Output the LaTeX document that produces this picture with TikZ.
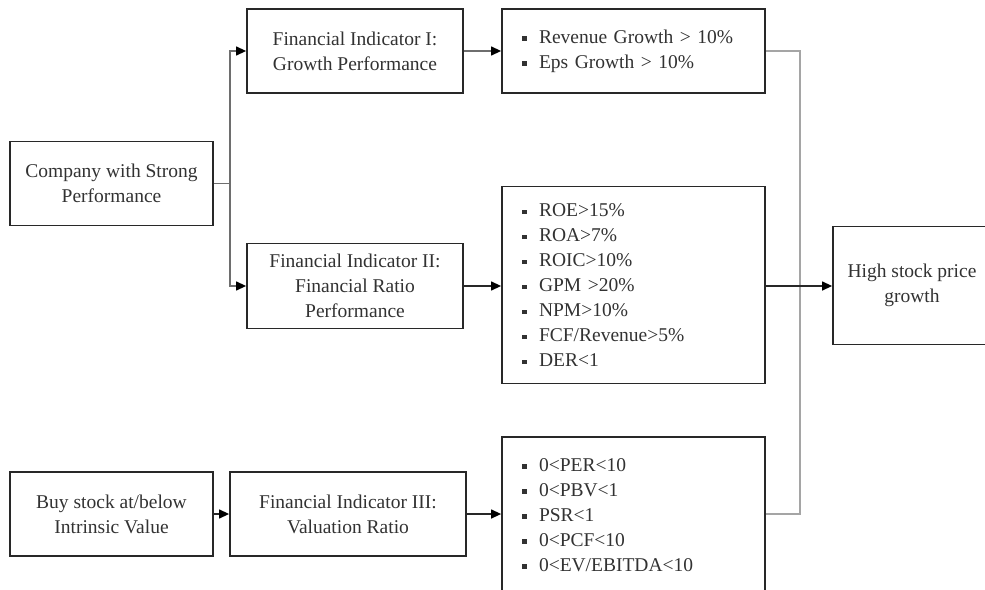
\documentclass[tikz,border=0pt]{standalone}
\usepackage{fontspec}
\setmainfont{Liberation Serif}
\usetikzlibrary{arrows.meta}
\definecolor{txt}{RGB}{50,50,50}
\definecolor{bord}{RGB}{40,40,40}
\definecolor{lgray}{RGB}{165,165,165}
\definecolor{mgray}{RGB}{110,110,110}
\newcommand{\bul}{\makebox[17pt][l]{\rule[2.4pt]{4.5pt}{4.5pt}}}
\begin{document}
\begin{tikzpicture}[x=1pt,y=-1pt,
  box/.style={draw=bord,line width=1.8pt,text=txt,font=\fontsize{19.5}{25}\selectfont,align=center,inner sep=0pt},
  listbox/.style={box,align=left,inner xsep=20pt,text width=223pt,minimum width=263pt},
  conn/.style={draw=mgray,line width=1.3pt},
  arr/.style={conn,-{Triangle[length=10pt,width=9pt,color=black]}},
  darr/.style={draw=bord,line width=1.3pt,-{Triangle[length=10pt,width=9pt,color=black]}},
  rline/.style={draw=lgray,line width=1.6pt}
]
\useasboundingbox (0,0) rectangle (985,589);
\clip (0,0) rectangle (985,589);

\node[box,minimum width=203pt,minimum height=84pt] (comp) at (111.5,183.5) {Company with Strong\\Performance};
\node[box,minimum width=216pt,minimum height=84pt] (fi1) at (355,51) {Financial Indicator I:\\Growth Performance};
\node[box,minimum width=216pt,minimum height=85pt] (fi2) at (355,286) {Financial Indicator II:\\Financial Ratio\\Performance};
\node[box,minimum width=203pt,minimum height=84pt] (buy) at (111.5,514) {Buy stock at/below\\Intrinsic Value};
\node[box,minimum width=236pt,minimum height=84pt] (fi3) at (348,514) {Financial Indicator III:\\Valuation Ratio};

\node[listbox,minimum height=84pt] (b1) at (633.5,51) {\bul Revenue Growth > 10\%\\\bul Eps Growth > 10\%};
\node[listbox,minimum height=197pt] (b2) at (633.5,285) {\bul ROE>15\%\\\bul ROA>7\%\\\bul ROIC>10\%\\\bul GPM >20\%\\\bul NPM>10\%\\\bul FCF/Revenue>5\%\\\bul DER<1};
\node[listbox,minimum height=156pt] (b3) at (633.5,515) {\bul 0<PER<10\\\bul 0<PBV<1\\\bul PSR<1\\\bul 0<PCF<10\\\bul 0<EV/EBITDA<10};

\node[box,minimum width=158pt,minimum height=118pt] (high) at (912,285.5) {High stock price\\growth};

\coordinate (cj) at (230,183.5);
\coordinate (rj) at (800,286);

\draw[conn] (comp.east) -- (cj);
\draw[arr] (cj) |- (fi1.west);
\draw[arr] (cj) |- (fi2.west);
\draw[arr] (fi1.east) -- (fi1.east -| b1.west);
\draw[darr] (fi2.east) -- (fi2.east -| b2.west);
\draw[darr] (buy.east) -- (fi3.west);
\draw[darr] (fi3.east) -- (fi3.east -| b3.west);
\draw[rline] (b1.east) -| (rj) |- (fi3.east -| b3.east);
\draw[darr] (fi2.east -| b2.east) -- (fi2.east -| high.west);
\end{tikzpicture}
\end{document}
